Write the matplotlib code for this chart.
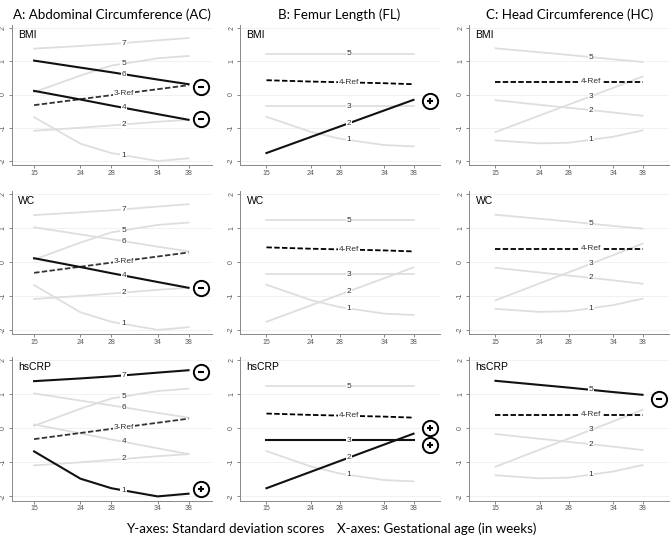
import numpy as np
import matplotlib
matplotlib.use('Agg')
import matplotlib.pyplot as plt

# gestational age: plotting positions and their tick labels
week_pos = [18, 24, 28, 34, 38]
week_labels = ['15', '24', '28', '34', '38']

# A: abdominal circumference trajectories (SD scores)
ac_names = ['1', '2', '3-Ref', '4', '5', '6', '7']
ac_values = [
    [-0.68, -1.48, -1.76, -2.00, -1.92],
    [-1.09, -1.00, -0.93, -0.82, -0.76],
    [-0.32, -0.14, -0.02, 0.16, 0.28],
    [0.11, -0.15, -0.33, -0.59, -0.76],
    [0.07, 0.57, 0.87, 1.09, 1.16],
    [1.02, 0.81, 0.67, 0.45, 0.31],
    [1.38, 1.46, 1.52, 1.63, 1.70],
]

# B: femur length
fl_names = ['1', '2', '3', '4-Ref', '5']
fl_values = [
    [-0.67, -1.12, -1.33, -1.52, -1.56],
    [-1.76, -1.28, -0.96, -0.48, -0.16],
    [-0.36, -0.36, -0.36, -0.36, -0.36],
    [0.43, 0.39, 0.37, 0.34, 0.31],
    [1.23, 1.23, 1.23, 1.23, 1.23],
]

# C: head circumference
hc_names = ['1', '2', '3', '4-Ref', '5']
hc_values = [
    [-1.38, -1.47, -1.45, -1.27, -1.08],
    [-0.17, -0.31, -0.40, -0.54, -0.64],
    [-1.13, -0.63, -0.30, 0.20, 0.54],
    [0.39, 0.39, 0.39, 0.39, 0.39],
    [1.39, 1.27, 1.19, 1.06, 0.98],
]

exposures = ['BMI', 'WC', 'hsCRP']
titles = ['A: Abdominal Circumference (AC)', 'B: Femur Length (FL)',
          'C: Head Circumference (HC)']

# highlighted trajectories: (outcome, exposure) -> [(line, sign, circle y)]
highlights = {
    ('AC', 'BMI'): [('6', '-', 0.22), ('4', '-', -0.74)],
    ('AC', 'WC'): [('4', '-', -0.78)],
    ('AC', 'hsCRP'): [('7', '-', 1.66), ('1', '+', -1.79)],
    ('FL', 'BMI'): [('2', '+', -0.20)],
    ('FL', 'hsCRP'): [('2', '+', 0.0), ('3', '+', -0.49)],
    ('HC', 'hsCRP'): [('5', '-', 0.87)],
}

outcomes = [
    ('AC', ac_names, ac_values, 29.6, (15.1, 41.0), 39.6, '#333333'),
    ('FL', fl_names, fl_values, 29.2, (14.4, 41.6), 40.3, 'black'),
    ('HC', hc_names, hc_values, 31.0, (14.4, 41.6), 40.2, 'black'),
]

W, H = 671, 546
fig = plt.figure(figsize=(W / 100, H / 100), dpi=100)
plt.rcParams['font.family'] = ['Liberation Sans', 'DejaVu Sans']

col_left = [11.7, 240, 469]
col_w = 200
row_top = [24.7, 190.6, 356.6]
row_bot = [165, 334, 500.5]
title_x = [112, 339, 570]

for c, (code, names, values, lab_x, xlim, circ_x, ref_col) in enumerate(outcomes):
    fig.text(title_x[c] / W, 1 - 15 / H, titles[c], ha='center', va='center',
             fontsize=9.6, family=['Lato', 'DejaVu Sans'])
    for r, expo in enumerate(exposures):
        ax = fig.add_axes([col_left[c] / W, 1 - row_bot[r] / H,
                           col_w / W, (row_bot[r] - row_top[r]) / H])
        hl = highlights.get((code, expo), [])
        hl_names = [h[0] for h in hl]
        for name, vals in zip(names, values):
            if 'Ref' in name:
                ax.plot(week_pos, vals, color=ref_col, lw=1.3,
                        ls=(0, (3, 1.3)), zorder=3)
            elif name in hl_names:
                ax.plot(week_pos, vals, color='#111111', lw=1.5, zorder=4)
            else:
                ax.plot(week_pos, vals, color='#dedede', lw=1.3, zorder=2)
            ly = np.interp(lab_x, week_pos, vals)
            ax.text(lab_x, ly, name, ha='center', va='center', fontsize=6,
                    color='#333333', zorder=6,
                    bbox=dict(boxstyle='square,pad=0.1', fc='white', ec='none'))
        for name, sign, cy in hl:
            ax.plot([circ_x], [cy], marker='o', ms=11, mfc='white', mec='black',
                    mew=1.4, clip_on=False, zorder=7)
            ax.plot([circ_x], [cy], marker='_' if sign == '-' else '+', ms=5,
                    mew=1.5, color='black', clip_on=False, zorder=8)
        ax.text(0.033, 0.925, expo, transform=ax.transAxes, ha='left',
                va='center', fontsize=7.5)
        ax.set_xlim(*xlim)
        ax.set_ylim(-2.12, 2.1)
        ax.set_xticks(week_pos)
        ax.set_xticklabels(week_labels)
        ax.set_yticks([-2, -1, 0, 1, 2])
        ax.set_yticklabels(['-2', '-1', '0', '1', '2'], rotation=90, va='center')
        ax.tick_params(labelsize=5, length=2, width=0.5, colors='#555555',
                       pad=1.5)
        ax.grid(axis='y', color='#efefef', lw=0.6)
        ax.set_axisbelow(True)
        for s in ['top', 'right']:
            ax.spines[s].set_visible(False)
        for s in ['left', 'bottom']:
            ax.spines[s].set_color('#888888')
            ax.spines[s].set_linewidth(0.7)

fig.text(225 / W, 1 - 529 / H, 'Y-axes: Standard deviation scores',
         ha='center', va='center', fontsize=9.6, family=['Lato', 'DejaVu Sans'])
fig.text(437 / W, 1 - 529 / H, 'X-axes: Gestational age (in weeks)',
         ha='center', va='center', fontsize=9.6, family=['Lato', 'DejaVu Sans'])

fig.savefig('out.png', dpi=100)
